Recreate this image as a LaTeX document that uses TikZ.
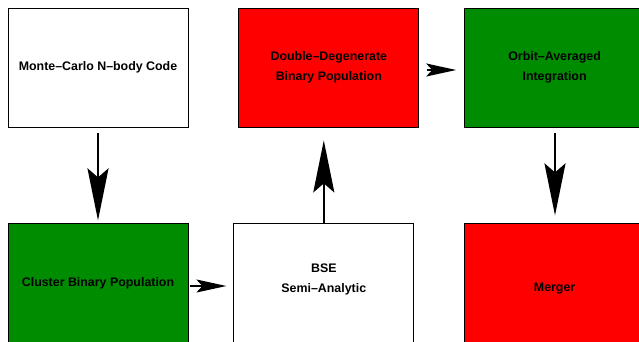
\documentclass[tikz,border=0pt]{standalone}
\usepackage{fontspec}
\setmainfont{Liberation Sans}
\usetikzlibrary{arrows.meta, positioning}
\definecolor{figred}{RGB}{255,0,0}
\definecolor{figgreen}{RGB}{0,140,0}
\tikzstyle{stagebox} = [rectangle, minimum width=180pt, minimum height=119pt, align=center, text centered, draw=black, line width=0.8pt, font=\bfseries\fontsize{12.4}{20}\selectfont]
\tikzstyle{bigarrow} = [line width=2.6pt, -{Stealth[length=52pt, width=21pt, inset=9pt]}]
\tikzstyle{smallarrow} = [line width=1.5pt, -{Stealth[length=30pt, width=13pt, inset=6pt]}]

\begin{document}
\begin{tikzpicture}[x=1pt, y=1pt]
    \useasboundingbox (0,0) rectangle (639,-342);
    \clip (0,0) rectangle (639,-342);
    \node (mc)      [stagebox, fill=white] at (98,-67.5) {Monte--Carlo N--body Code};
    \node (dd)      [stagebox, fill=figred, right=50pt of mc] {Double--Degenerate\\Binary Population};
    \node (orbit)   [stagebox, fill=figgreen, right=45pt of dd] {Orbit--Averaged\\Integration};
    \node (cluster) [stagebox, fill=figgreen, below=96pt of mc] {Cluster Binary Population};
    \node (bse)     [stagebox, fill=white, right=45pt of cluster] {BSE\\Semi--Analytic\\[-9pt]};
    \node (merger)  [stagebox, fill=figred, right=50pt of bse] {\\[-1pt]Merger};

    \draw [bigarrow, shorten <=6pt, shorten >=3pt] (mc) -- (cluster);
    \draw [bigarrow, shorten >=13pt] (bse) -- (bse |- dd.south);
    \draw [bigarrow, shorten <=6pt, shorten >=8pt] (orbit.south -| 555,0) -- (merger.north -| 555,0);
    \draw [smallarrow, shorten <=2pt, shorten >=7pt] (cluster.east |- 0,-286) -- (bse.west |- 0,-286);
    \draw [smallarrow, shorten <=8pt, shorten >=8pt] (dd.east |- 0,-70) -- (orbit.west |- 0,-70);
\end{tikzpicture}
\end{document}
